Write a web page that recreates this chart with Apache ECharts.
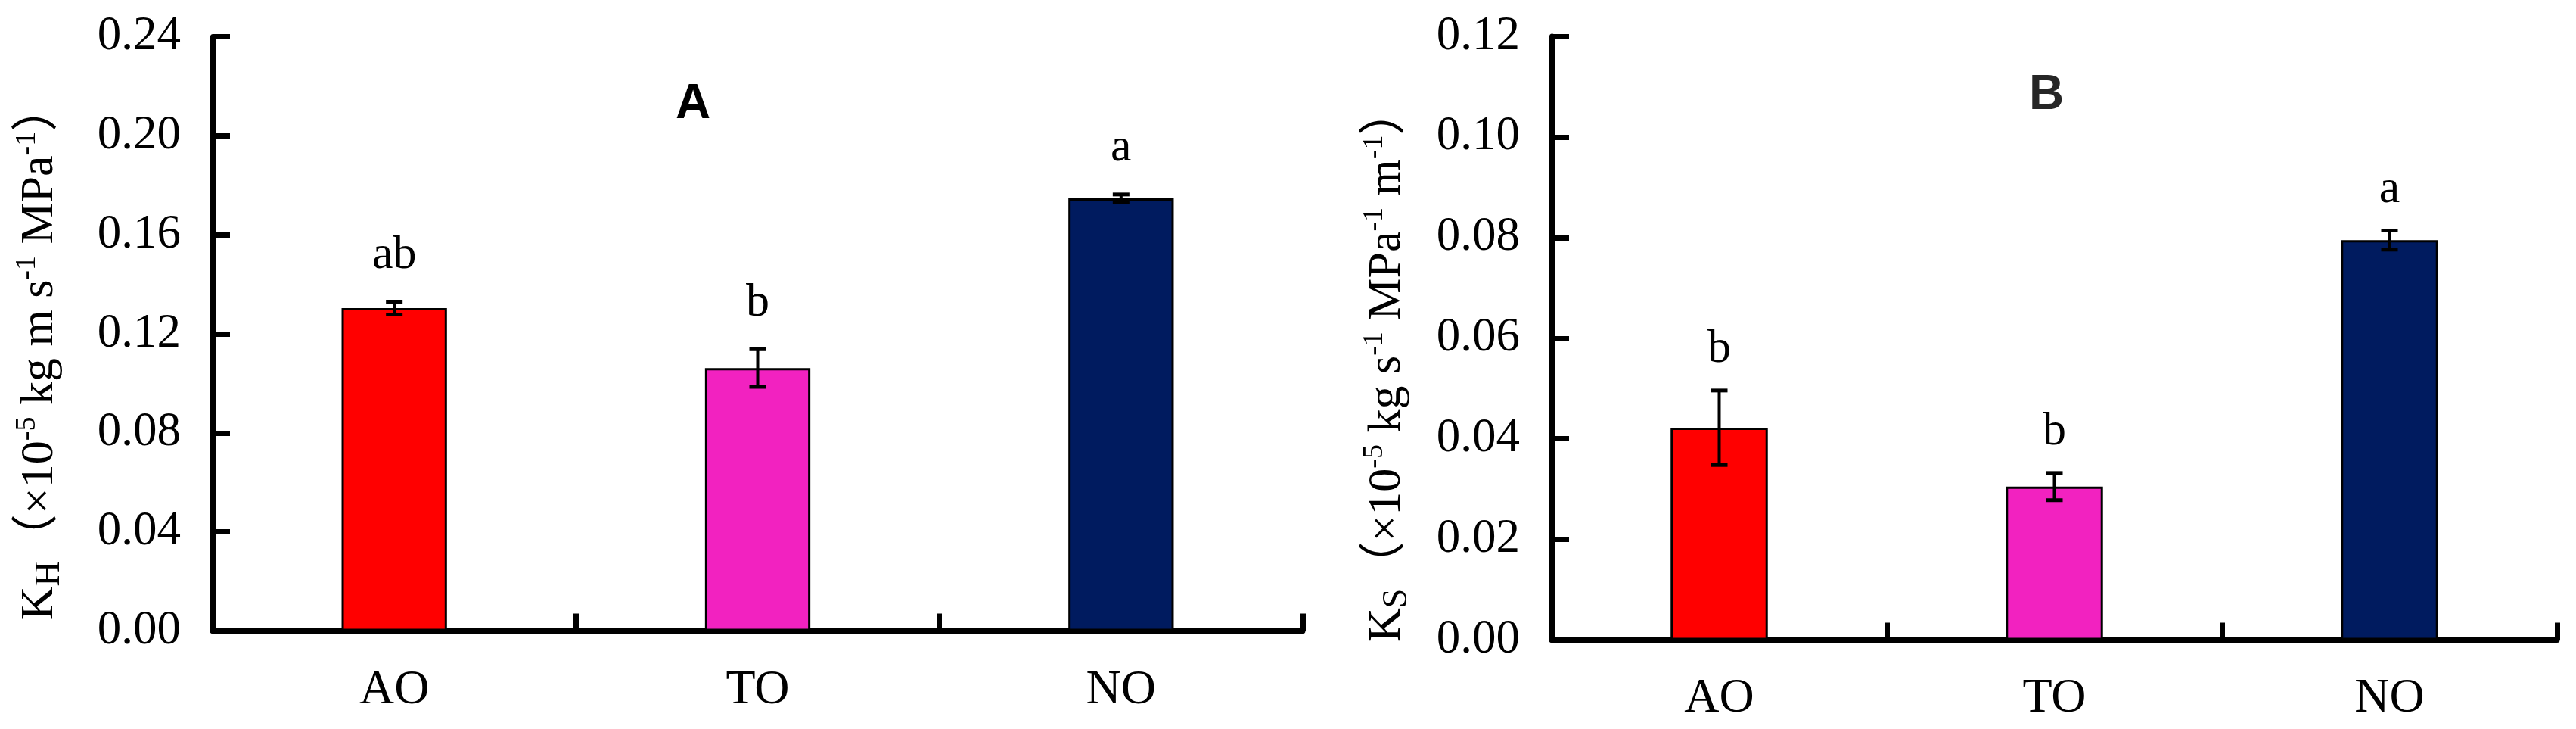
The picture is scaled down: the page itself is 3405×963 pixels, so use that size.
<!DOCTYPE html>
<html>
<head>
<meta charset="utf-8">
<script src="https://cdn.jsdelivr.net/npm/echarts@6/dist/echarts.min.js"></script>
<style>
html,body{margin:0;padding:0;background:#fff;}
#c{width:3405px;height:963px;}
</style>
</head>
<body>
<div id="c"></div>
<script>
// ---- data ----
const categories = ['AO', 'TO', 'NO'];
const khValues = [0.1304, 0.1062, 0.1747];
const khErrors = [0.0026, 0.0076, 0.0016];
const khLetters = ['ab', 'b', 'a'];
const ksValues = [0.0422, 0.0305, 0.0795];
const ksErrors = [0.0074, 0.0027, 0.0019];
const ksLetters = ['b', 'b', 'a'];
const khTicks = { min: 0, max: 0.24, interval: 0.04 };
const ksTicks = { min: 0, max: 0.12, interval: 0.02 };
const panelTitles = ['A', 'B'];
const khAxisName = '{n|K}{sub|H}{n|（×10}{sup|-5}{n| kg m s}{sup|-1}{n| MPa}{sup|-1}{n|）}';
const ksAxisName = '{n|K}{sub|S}{n|（×10}{sup|-5}{n| kg s}{sup|-1}{n| MPa}{sup|-1}{n| m}{sup|-1}{n|）}';

// ---- styles ----
const barColors = ['#FF0000', '#F222C0', '#001B5F'];
const SERIF = '"Liberation Serif", "Times New Roman", "Noto Sans CJK SC", serif';
const SANS = '"Liberation Sans", Arial, sans-serif';

const rich = {
  n:   { fontSize: 62, lineHeight: 72, fontFamily: SERIF, color: '#000' },
  sup: { fontSize: 38, lineHeight: 50, verticalAlign: 'top', fontFamily: SERIF, color: '#000' },
  sub: { fontSize: 46, lineHeight: 36, verticalAlign: 'bottom', fontFamily: SERIF, color: '#000' }
};

function xAxisCfg(g) {
  return {
    gridIndex: g, type: 'category', data: categories, boundaryGap: true,
    axisLine: { show: true, lineStyle: { color: '#000', width: 7 } },
    axisTick: { show: true, inside: true, length: 23, lineStyle: { color: '#000', width: 7 } },
    axisLabel: { margin: g === 0 ? 47 : 46, fontSize: 64, fontFamily: SERIF, color: '#000' },
    splitLine: { show: false }
  };
}
function yAxisCfg(g, ticks, name, gap, shift) {
  return {
    gridIndex: g, type: 'value', min: ticks.min, max: ticks.max, interval: ticks.interval,
    axisLine: { show: true, lineStyle: { color: '#000', width: 7 } },
    axisTick: { show: true, inside: true, length: 23, lineStyle: { color: '#000', width: 7 } },
    axisLabel: { margin: 42, fontSize: 63, fontFamily: SERIF, color: '#000',
                 formatter: v => v.toFixed(2) },
    splitLine: { show: false },
    name: name, nameLocation: 'middle', nameRotate: 90, nameGap: gap,
    nameMoveOverlap: false,
    nameTextStyle: { rich: rich, fontFamily: SERIF, fontSize: 62, color: '#000', padding: [0, shift, 0, 0] }
  };
}
function barSeries(g, values) {
  return {
    type: 'bar', xAxisIndex: g, yAxisIndex: g, barWidth: '29%',
    data: values.map((v, i) => ({ value: v, itemStyle: { color: barColors[i] } })),
    itemStyle: { borderColor: '#000', borderWidth: 3 },
    emphasis: { disabled: true }, animation: false
  };
}
function errSeries(g, values, errors, letters, letterGap) {
  return {
    type: 'custom', xAxisIndex: g, yAxisIndex: g, z: 10, animation: false,
    data: values.map((v, i) => [i, v, errors[i]]),
    renderItem: function (params, api) {
      const i = api.value(0), v = api.value(1), e = api.value(2);
      const t = api.coord([i, v + e]);
      const b = api.coord([i, v - e]);
      const h = 11;
      return {
        type: 'group', children: [
          { type: 'line', shape: { x1: t[0], y1: t[1], x2: b[0], y2: b[1] }, style: { stroke: '#000', lineWidth: 4 } },
          { type: 'line', shape: { x1: t[0] - h, y1: t[1], x2: t[0] + h, y2: t[1] }, style: { stroke: '#000', lineWidth: 5 } },
          { type: 'line', shape: { x1: b[0] - h, y1: b[1], x2: b[0] + h, y2: b[1] }, style: { stroke: '#000', lineWidth: 5 } },
          { type: 'text', x: t[0], y: t[1] - letterGap,
            style: { text: letters[params.dataIndex], fontSize: 62, fontFamily: SERIF, fill: '#000',
                     align: 'center', verticalAlign: 'bottom' } }
        ]
      };
    }
  };
}

const chart = echarts.init(document.getElementById('c'), null, { renderer: 'canvas' });
chart.setOption({
  backgroundColor: '#fff',
  animation: false,
  title: [
    { text: panelTitles[0], left: 916, top: 106, textAlign: 'center', padding: 0,
      textStyle: { fontSize: 64, fontWeight: 'bold', fontFamily: SANS, color: '#000' } },
    { text: panelTitles[1], left: 2705, top: 94, textAlign: 'center', padding: 0,
      textStyle: { fontSize: 64, fontWeight: 'bold', fontFamily: SANS, color: '#262626' } }
  ],
  grid: [
    { left: 281, top: 48.5, width: 1441, height: 785, containLabel: false, outerBoundsMode: 'none' },
    { left: 2051, top: 48, width: 1329, height: 797.5, containLabel: false, outerBoundsMode: 'none' }
  ],
  xAxis: [xAxisCfg(0), xAxisCfg(1)],
  yAxis: [
    yAxisCfg(0, khTicks, khAxisName, 192, 49),
    yAxisCfg(1, ksTicks, ksAxisName, 181, 71)
  ],
  series: [
    barSeries(0, khValues),
    errSeries(0, khValues, khErrors, khLetters, 30),
    barSeries(1, ksValues),
    errSeries(1, ksValues, ksErrors, ksLetters, 23)
  ]
});
</script>
</body>
</html>
